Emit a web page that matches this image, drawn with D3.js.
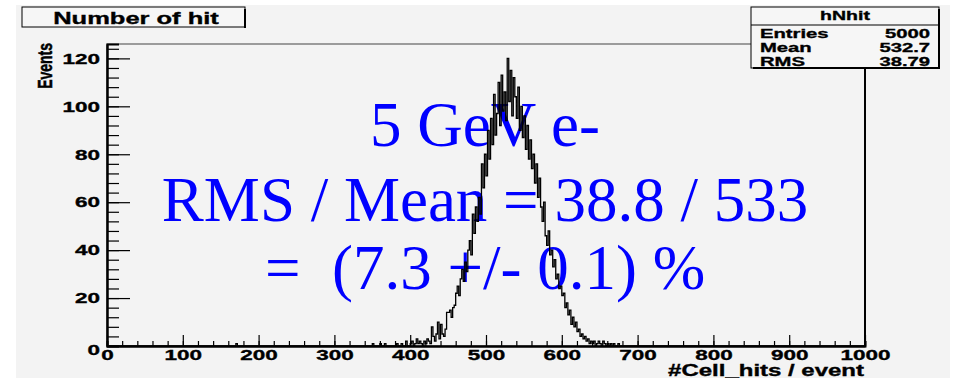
<!DOCTYPE html>
<html>
<head>
<meta charset="utf-8">
<script src="https://cdn.jsdelivr.net/npm/d3@7"></script>
<style>
  body { margin: 0; background: #ffffff; }
  text { font-family: "Liberation Sans", Arial, sans-serif; font-weight: bold; fill: #000; stroke: #000; stroke-width: 0.35; }
  text.blue { font-family: "Liberation Serif", "Times New Roman", serif; font-weight: normal; fill: #0000ff; stroke: none; }
</style>
</head>
<body>
<div id="chart"></div>
<script>
// histogram hNhit, bin width 2, contents
const binWidth = 2;
const firstBin = 400;
const counts = [
  1, 2, 0, 1, 3, 1, 2, 1, 0, 2, 1, 3, 2, 1, 8, 4, 2, 5, 10, 3,
  9, 5, 4, 7, 14, 14, 15, 12, 16, 17, 22, 25, 21, 28, 32, 27, 35, 31, 40, 44,
  38, 55, 47, 58, 52, 62, 55, 76, 66, 80, 71, 90, 78, 95, 84, 105, 88, 97, 110, 92,
  113, 98, 106, 94, 120, 102, 115, 96, 112, 104, 95, 108, 90, 100, 87, 96, 82, 92, 78, 86,
  74, 80, 68, 76, 62, 70, 58, 52, 60, 46, 42, 48, 38, 40, 33, 36, 28, 30, 24, 25,
  21, 22, 16, 18, 13, 15, 9, 12, 8, 10, 6, 7, 4, 5, 3, 4, 2, 3, 1, 2,
  1, 2, 0, 1, 2, 1, 0, 2, 1, 0, 1, 0, 1, 0, 1, 0, 0, 1, 0, 0
];
// isolated low entries below 400: [bin low edge, count]
const lowEntries = [[170, 1], [350, 1], [360, 1], [366, 1], [382, 1], [388, 1], [394, 2]];

const xTicks = [0, 100, 200, 300, 400, 500, 600, 700, 800, 900, 1000];
const yTicks = [0, 20, 40, 60, 80, 100, 120];

const title = "Number of hit";
const statsName = "hNhit";
const statsRows = [["Entries", "5000"], ["Mean", "532.7"], ["RMS", "38.79"]];
const note = ["5 GeV e-", "RMS / Mean = 38.8 / 533", "=  (7.3 +/- 0.1) %"];

const W = 955, H = 380;
const sx = 1.5;   // the original picture is stretched sideways

const svg = d3.select("#chart").append("svg")
    .attr("width", W)
    .attr("height", H);

// canvas
svg.append("rect").attr("x", 16).attr("y", 5).attr("width", 934).attr("height", 373)
    .attr("fill", "#f3f3f3");

// set the ranges
var x = d3.scaleLinear().domain([0, 1000]).range([107, 865]);
var y = d3.scaleLinear().domain([0, 126]).range([346, 44]);

// full list of bins 0..1000
var nBins = 1000 / binWidth;
var bins = d3.range(nBins).map(function(i) { return {lo: i * binWidth, n: 0}; });
counts.forEach(function(c, i) { bins[(firstBin / binWidth) + i].n = c; });
lowEntries.forEach(function(d) { bins[d[0] / binWidth].n = d[1]; });

// frame
svg.append("rect")
    .attr("x", x(0)).attr("y", y(126))
    .attr("width", x(1000) - x(0)).attr("height", y(0) - y(126))
    .attr("fill", "none").attr("stroke", "#444").attr("stroke-width", 1);
svg.append("line").attr("x1", x(1000)).attr("x2", x(1000)).attr("y1", y(126)).attr("y2", y(0))
    .attr("stroke", "#000").attr("stroke-width", 2);

// blue annotation
var noteY = [146, 221, 289];
note.forEach(function(t, i) {
    svg.append("text").attr("class", "blue")
        .attr("x", 485).attr("y", noteY[i])
        .attr("text-anchor", "middle")
        .attr("font-size", 63)
        .attr("xml:space", "preserve")
        .style("white-space", "pre")
        .text(t);
});

// histogram outline
var pts = bins.map(function(b) { return [b.lo, b.n]; });
pts.push([1000, 0]);
var step = d3.line()
    .x(function(d) { return x(d[0]); })
    .y(function(d) { return y(d[1]); })
    .curve(d3.curveStepAfter);
svg.append("path")
    .datum(pts)
    .attr("d", step)
    .attr("fill", "none")
    .attr("stroke", "#000")
    .attr("stroke-width", 1.3);

// Y axis
var yAxis = svg.append("g").attr("transform", "translate(" + x(0) + ",0)")
    .call(d3.axisLeft(y).tickValues(yTicks).tickSizeInner(-23).tickSizeOuter(0).tickPadding(9));
svg.append("g").attr("transform", "translate(" + x(0) + ",0)")
    .call(d3.axisLeft(y).tickValues(d3.range(0, 125, 4)).tickSize(-12).tickFormat(""));

// X axis
var xAxis = svg.append("g").attr("transform", "translate(0," + y(0) + ")")
    .call(d3.axisBottom(x).tickValues(xTicks).tickFormat(d3.format("d"))
        .tickSizeInner(-11).tickSizeOuter(0).tickPadding(3));
svg.append("g").attr("transform", "translate(0," + y(0) + ")")
    .call(d3.axisBottom(x).tickValues(d3.range(0, 1001, 20)).tickSize(-5).tickFormat(""));

svg.selectAll(".domain").attr("stroke", "#000").attr("stroke-width", 2);
svg.selectAll(".tick line").attr("stroke", "#000").attr("stroke-width", 1.2);
svg.selectAll(".tick text").attr("font-size", 15).attr("font-family", null)
    .attr("fill", "#000").attr("transform", "scale(" + sx + ",1)");
yAxis.selectAll("text").attr("x", -7 / sx);
yAxis.selectAll(".tick").filter(function(d) { return d === 0; }).select("text").attr("dy", "0.55em");

// axis titles
svg.append("text")
    .attr("transform", "translate(52,43) scale(" + sx + ",1) rotate(-90)")
    .attr("text-anchor", "end")
    .attr("font-size", 14)
    .text("Events");
svg.append("text")
    .attr("transform", "translate(864,376) scale(" + sx + ",1)")
    .attr("text-anchor", "end")
    .attr("font-size", 16)
    .text("#Cell_hits / event");

// title box
svg.append("rect").attr("x", 22).attr("y", 7).attr("width", 223).attr("height", 20)
    .attr("fill", "#f6f6f6").attr("stroke", "#000").attr("stroke-width", 1);
svg.append("line").attr("x1", 245).attr("x2", 245).attr("y1", 9).attr("y2", 28)
    .attr("stroke", "#000").attr("stroke-width", 2);
svg.append("text").attr("transform", "translate(136,24) scale(" + sx + ",1)")
    .attr("text-anchor", "middle")
    .attr("font-size", 17).text(title);

// stats box
var sb = {x: 751, y: 7, w: 188, h: 61};
svg.append("rect").attr("x", sb.x).attr("y", sb.y).attr("width", sb.w).attr("height", sb.h)
    .attr("fill", "#f6f6f6").attr("stroke", "#000").attr("stroke-width", 1);
svg.append("line").attr("x1", sb.x + sb.w).attr("x2", sb.x + sb.w).attr("y1", sb.y + 2).attr("y2", sb.y + sb.h + 1)
    .attr("stroke", "#000").attr("stroke-width", 2);
svg.append("line").attr("x1", sb.x + 2).attr("x2", sb.x + sb.w + 1).attr("y1", sb.y + sb.h).attr("y2", sb.y + sb.h)
    .attr("stroke", "#000").attr("stroke-width", 2);
svg.append("line").attr("x1", sb.x).attr("x2", sb.x + sb.w).attr("y1", 25).attr("y2", 25)
    .attr("stroke", "#000").attr("stroke-width", 1);
svg.append("text").attr("transform", "translate(" + (sb.x + sb.w / 2) + ",20) scale(" + sx + ",1)")
    .attr("text-anchor", "middle")
    .attr("font-size", 13).text(statsName);
statsRows.forEach(function(r, i) {
    var by = 37.5 + i * 14;
    svg.append("text").attr("transform", "translate(760," + by + ") scale(" + sx + ",1)")
        .attr("font-size", 13.5).text(r[0]);
    svg.append("text").attr("transform", "translate(930," + by + ") scale(" + sx + ",1)")
        .attr("text-anchor", "end")
        .attr("font-size", 13.5).text(r[1]);
});
</script>
</body>
</html>
